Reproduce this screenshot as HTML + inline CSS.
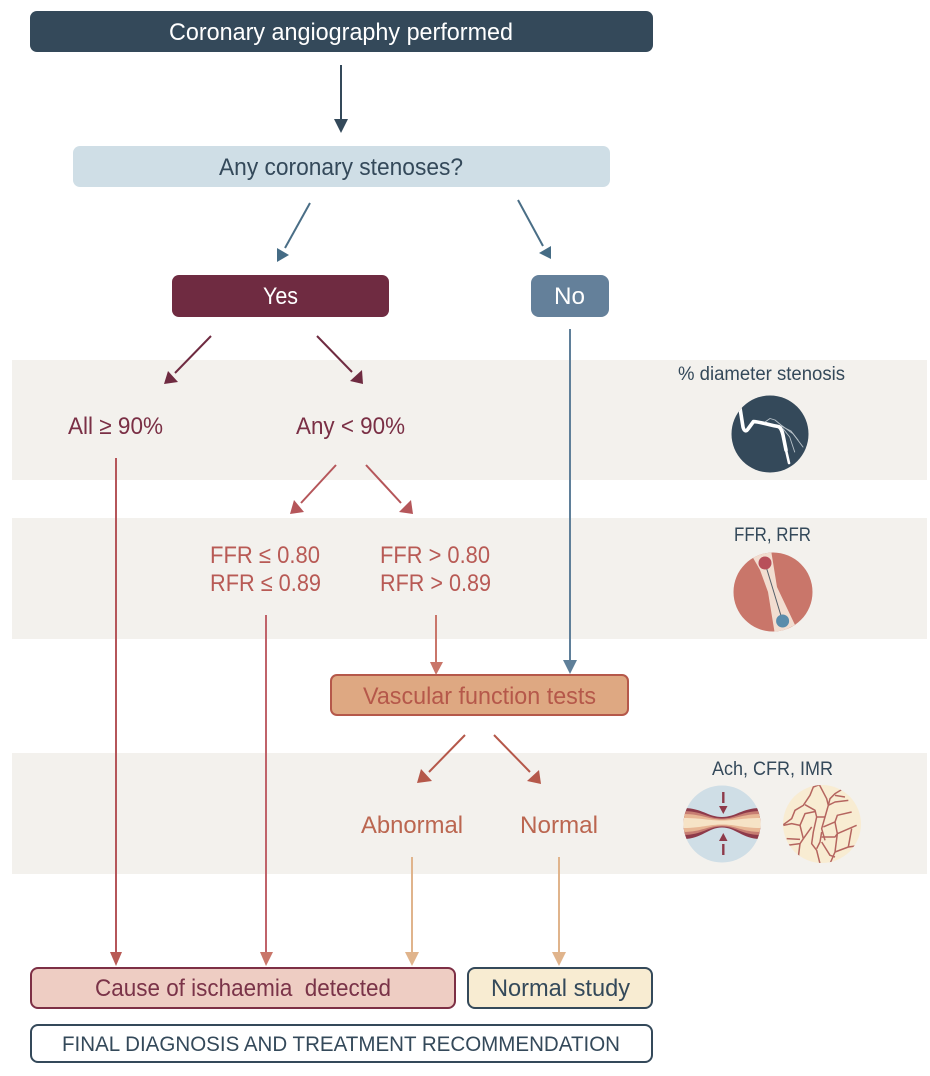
<!DOCTYPE html>
<html><head><meta charset="utf-8"><style>
html,body{margin:0;padding:0;background:#fff}
svg{display:block}
text{font-family:"Liberation Sans",sans-serif;font-size:24px;text-anchor:start}
</style></head><body>
<svg width="930" height="1076" viewBox="0 0 930 1076" xmlns="http://www.w3.org/2000/svg">
<defs>
<clipPath id="c3"><circle cx="722" cy="824" r="38.5"/></clipPath>
<clipPath id="c4"><circle cx="822" cy="824" r="39"/></clipPath>
<clipPath id="c2"><circle cx="773" cy="592" r="39.5"/></clipPath>
<clipPath id="c1"><circle cx="770" cy="434" r="38.5"/></clipPath>
</defs>
<rect width="930" height="1076" fill="#fff"/>
<rect x="12" y="360" width="915" height="120" fill="#f3f1ed"/>
<rect x="12" y="518" width="915" height="121" fill="#f3f1ed"/>
<rect x="12" y="753" width="915" height="121" fill="#f3f1ed"/>

<rect x="30" y="11" width="623" height="41" rx="7" fill="#34495a"/>
<text x="169" y="40" textLength="344" lengthAdjust="spacingAndGlyphs" fill="#fff">Coronary angiography performed</text>
<line x1="341" y1="65" x2="341" y2="120" stroke="#34495a" stroke-width="2"/>
<polygon points="334,119 348,119 341,133" fill="#34495a"/>

<rect x="73" y="146" width="537" height="41" rx="7" fill="#cfdee6"/>
<text x="219" y="175" textLength="244" lengthAdjust="spacingAndGlyphs" fill="#34495a">Any coronary stenoses?</text>

<g stroke="#4a6e86" stroke-width="2"><line x1="310" y1="203" x2="285" y2="248"/><line x1="518" y1="200" x2="543" y2="246"/></g>
<polygon points="277,248 289,255 277,262" fill="#456c85"/>
<polygon points="539,253 551,246 551,259" fill="#456c85"/>

<rect x="172" y="275" width="217" height="42" rx="7" fill="#6f2b41"/>
<text x="263" y="304" textLength="35" lengthAdjust="spacingAndGlyphs" fill="#fff">Yes</text>
<rect x="531" y="275" width="78" height="42" rx="8" fill="#64809a"/>
<text x="554" y="304" textLength="31" lengthAdjust="spacingAndGlyphs" fill="#fff">No</text>

<g stroke="#6f2b41" stroke-width="2"><line x1="211" y1="336" x2="175" y2="373"/><line x1="317" y1="336" x2="352" y2="372"/></g>
<polygon points="164,384 178,382 168,371" fill="#6f2b41"/>
<polygon points="350,381 362,370 363,384" fill="#6f2b41"/>

<text x="68" y="434" textLength="95" lengthAdjust="spacingAndGlyphs" fill="#7a2f45">All ≥ 90%</text>
<text x="296" y="434" textLength="109" lengthAdjust="spacingAndGlyphs" fill="#7a2f45">Any &lt; 90%</text>

<g stroke="#b5565a" stroke-width="2"><line x1="336" y1="465" x2="301" y2="503"/><line x1="366" y1="465" x2="401" y2="503"/></g>
<polygon points="290,514 304,512 294,500" fill="#b5565a"/>
<polygon points="399,512 411,500 413,514" fill="#b5565a"/>

<g fill="#b85a55">
<text x="210" y="563" textLength="110" lengthAdjust="spacingAndGlyphs">FFR ≤ 0.80</text>
<text x="210" y="591" textLength="111" lengthAdjust="spacingAndGlyphs">RFR ≤ 0.89</text>
<text x="380" y="563" textLength="110" lengthAdjust="spacingAndGlyphs">FFR &gt; 0.80</text>
<text x="380" y="591" textLength="111" lengthAdjust="spacingAndGlyphs">RFR &gt; 0.89</text>
</g>

<line x1="116" y1="458" x2="116" y2="953" stroke="#b5565a" stroke-width="2"/>
<polygon points="110,952 122,952 116,966" fill="#b85a55"/>
<line x1="266" y1="615" x2="266" y2="953" stroke="#c0636a" stroke-width="2"/>
<polygon points="260,952 273,952 266,966" fill="#c9766a"/>
<line x1="436" y1="615" x2="436" y2="663" stroke="#c9766a" stroke-width="2"/>
<polygon points="430,662 443,662 436,675" fill="#c9766a"/>
<line x1="570" y1="329" x2="570" y2="663" stroke="#5f7f99" stroke-width="2"/>
<polygon points="563,660 577,660 570,674" fill="#5f7f99"/>

<rect x="331" y="675" width="297" height="40" rx="6" fill="#dea882" stroke="#b5584a" stroke-width="2"/>
<text x="363" y="704" textLength="233" lengthAdjust="spacingAndGlyphs" fill="#b5584a">Vascular function tests</text>

<g stroke="#b5584a" stroke-width="2"><line x1="465" y1="735" x2="429" y2="772"/><line x1="494" y1="735" x2="530" y2="772"/></g>
<polygon points="417,783 432,781 421,769" fill="#b5584a"/>
<polygon points="527,781 539,770 541,784" fill="#b5584a"/>

<text x="361" y="833" textLength="102" lengthAdjust="spacingAndGlyphs" fill="#bb6650">Abnormal</text>
<text x="520" y="833" textLength="78" lengthAdjust="spacingAndGlyphs" fill="#bb6650">Normal</text>

<line x1="412" y1="857" x2="412" y2="953" stroke="#e0b48c" stroke-width="2"/>
<polygon points="405,952 419,952 412,966" fill="#e0b48c"/>
<line x1="559" y1="857" x2="559" y2="953" stroke="#e0b48c" stroke-width="2"/>
<polygon points="552,952 566,952 559,966" fill="#e0b48c"/>

<rect x="31" y="968" width="424" height="40" rx="7" fill="#eecdc3" stroke="#7d2f45" stroke-width="2"/>
<text x="95" y="996" textLength="296" lengthAdjust="spacingAndGlyphs" fill="#7a3348" xml:space="preserve">Cause of ischaemia  detected</text>
<rect x="468" y="968" width="184" height="40" rx="7" fill="#f8ecd2" stroke="#34495a" stroke-width="2"/>
<text x="491" y="996" textLength="139" lengthAdjust="spacingAndGlyphs" fill="#34495a">Normal study</text>
<rect x="31" y="1025" width="621" height="37" rx="7" fill="#fff" stroke="#34495a" stroke-width="2"/>
<text x="62" y="1051" textLength="558" lengthAdjust="spacingAndGlyphs" fill="#34495a" style="font-size:21px">FINAL DIAGNOSIS AND TREATMENT RECOMMENDATION</text>

<g fill="#34495a">
<text x="678" y="380" textLength="167" lengthAdjust="spacingAndGlyphs" style="font-size:19px">% diameter stenosis</text>
<text x="734" y="541" textLength="77" lengthAdjust="spacingAndGlyphs" style="font-size:19px">FFR, RFR</text>
<text x="712" y="775" textLength="121" lengthAdjust="spacingAndGlyphs" style="font-size:19px">Ach, CFR, IMR</text>
</g>

<!-- icon 1 -->
<circle cx="770" cy="434" r="38.5" fill="#34495a"/>
<g clip-path="url(#c1)" fill="none" stroke-linejoin="round" stroke-linecap="round">
<path d="M740,408 L743,427 C744,431 746,432 748,429 L753.5,421.5 C760,422 770,425 778,426.5 C781,427 782,431 783,435 L786,450" stroke="#fff" stroke-width="3.6"/>
<path d="M786,450 L789,463" stroke="#fff" stroke-width="2.6"/>
<path d="M765,422 L770,418.5 L775,420 L781,425 L793,433.7 L803,447" stroke="#b8c2c9" stroke-width="0.9"/>
<path d="M783,428.7 L789.7,437 L794.7,452" stroke="#b8c2c9" stroke-width="0.9"/>
<path d="M781,426 L791,431 L798,440" stroke="#b8c2c9" stroke-width="0.9"/>
</g>

<!-- icon 2 -->
<circle cx="773" cy="592" r="39.5" fill="#c9766a"/>
<path d="M752,556 L760,570 L768,592 L775,635 L795,625 L777,587 L771,550 Z" fill="#f2ddd0" clip-path="url(#c2)"/>
<line x1="765" y1="563" x2="782.6" y2="621" stroke="#55606a" stroke-width="1"/>
<circle cx="765" cy="563" r="6.5" fill="#b84f5a"/>
<circle cx="782.6" cy="621" r="6.5" fill="#5a8cab"/>

<!-- icon 3 -->
<circle cx="722" cy="824" r="38.5" fill="#cfdee6"/>
<g clip-path="url(#c3)">
<path d="M683,808 C702,808 708,817 722,817 S742,808 761,808 L761,839 C742,839 736,827.5 722,827.5 S702,839 683,839 Z" fill="#8e3a4a"/>
<path d="M683,811 C702,811 708,818.5 722,818.5 S742,811 761,811 L761,835 C742,835 736,826.5 722,826.5 S702,835 683,835 Z" fill="#c77d72"/>
<path d="M683,814 C702,814 708,819.5 722,819.5 S742,814 761,814 L761,832 C742,832 736,825.5 722,825.5 S702,832 683,832 Z" fill="#e8b795"/>
<path d="M683,818 C702,818 708,820.5 722,820.5 S742,818 761,818 L761,828 C742,828 736,824.5 722,824.5 S702,828 683,828 Z" fill="#f6e3c6"/>
</g>
<g fill="#8e3a4a" stroke="#8e3a4a">
<line x1="723.3" y1="792" x2="723.3" y2="803" stroke-width="2.4"/>
<line x1="723.3" y1="844" x2="723.3" y2="855" stroke-width="2.4"/>
<polygon points="719,806 727.5,806 723.3,814" stroke="none"/>
<polygon points="719,841 727.5,841 723.3,833" stroke="none"/>
</g>

<!-- icon 4 -->
<circle cx="822" cy="824" r="39" fill="#f8ecd2"/>
<g clip-path="url(#c4)">
<g transform="translate(780,782) scale(.3333)" fill="none" stroke="#b5655f" stroke-width="4.5" stroke-linejoin="round">
<path d="M10,128 L35,110 45,85 70,70 90,40 100,15 118,8 140,50 145,70 135,105 125,140 135,175"/>
<path d="M75,68 L105,85 110,105 100,150 95,185 110,205 120,245"/>
<path d="M10,130 L35,125 60,130 75,95 108,88"/>
<path d="M110,105 L135,105"/>
<path d="M125,150 L120,180 110,200"/>
<path d="M145,70 L150,50 165,35 190,20"/>
<path d="M165,40 L195,45"/>
<path d="M145,70 L165,60 205,55"/>
<path d="M130,135 L165,120 172,100 215,90"/>
<path d="M165,120 L172,155 230,130"/>
<path d="M125,165 L165,165 172,155"/>
<path d="M172,155 L165,210 150,245"/>
<path d="M125,180 L150,220 165,225"/>
<path d="M165,210 L205,195 240,190"/>
<path d="M205,195 L215,140"/>
<path d="M60,130 L70,170 60,185 20,190"/>
<path d="M20,170 L60,172"/>
<path d="M70,170 L95,135"/>
<path d="M60,185 L55,225"/>
</g>
</g>
</svg>
</body></html>
